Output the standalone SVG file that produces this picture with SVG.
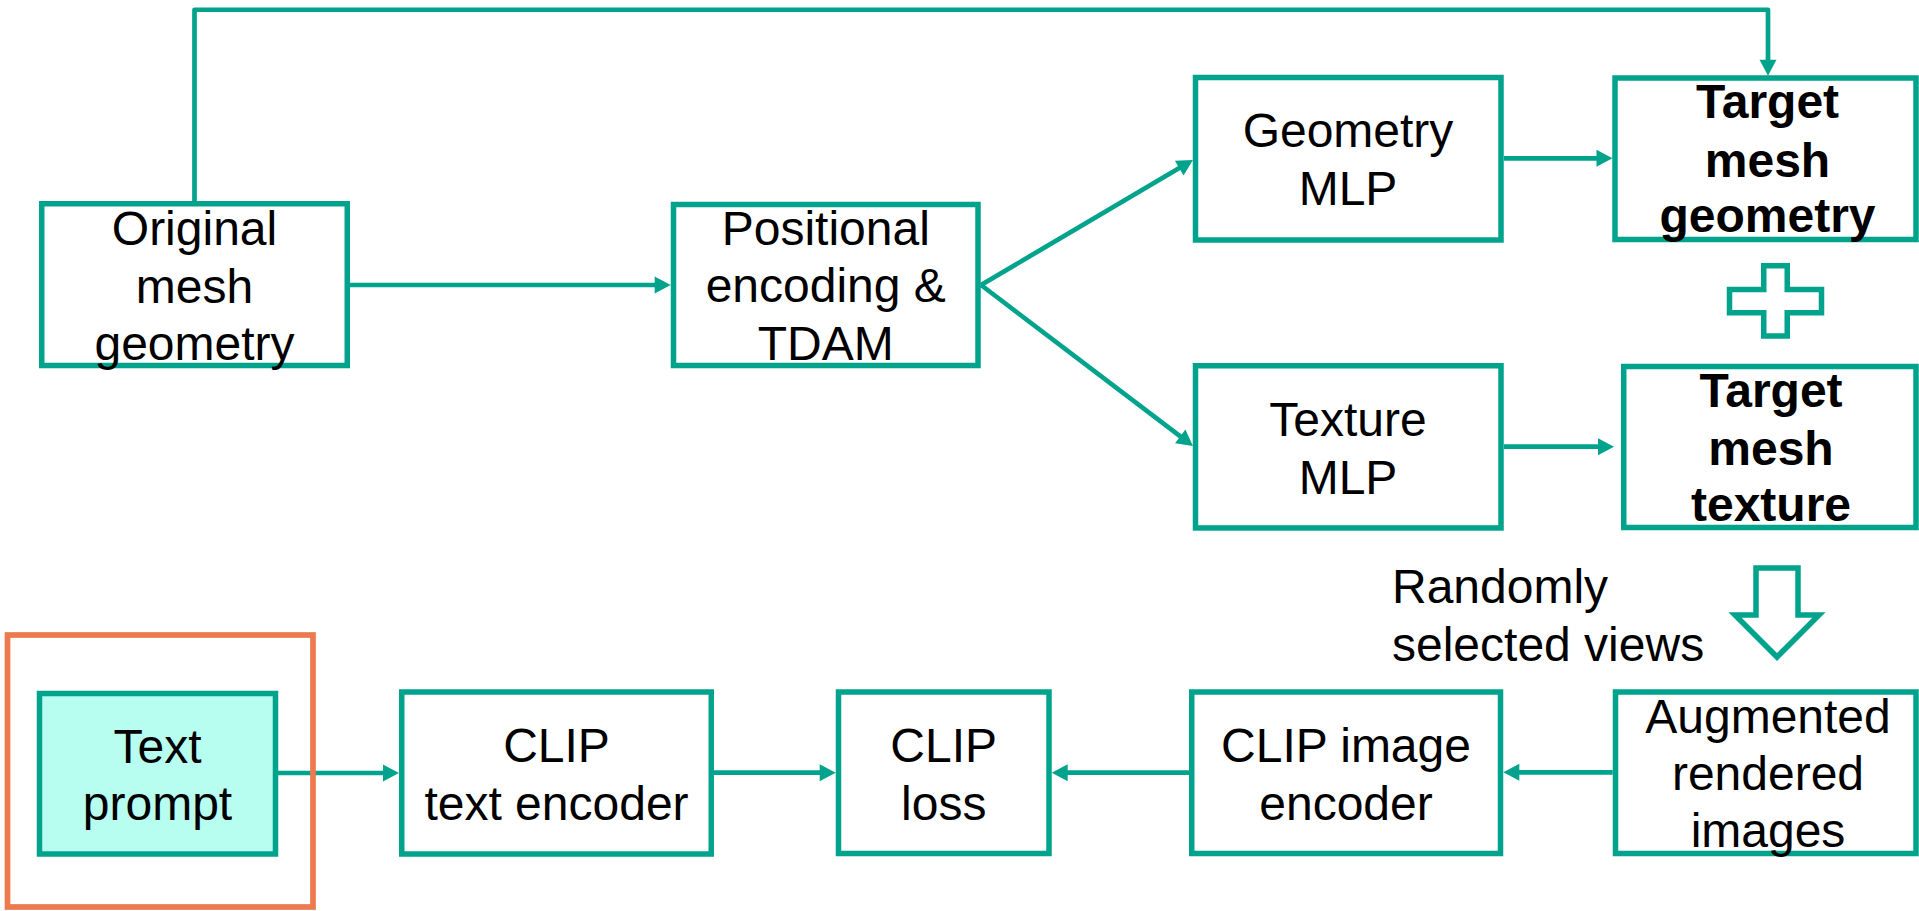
<svg xmlns="http://www.w3.org/2000/svg" width="1919" height="911" viewBox="0 0 1919 911">
  <style>
    .box { fill: #ffffff; stroke: #02A38C; stroke-width: 5.5; }
    .input { fill: #B7FEF0; }
    .lbl { font-family: "Liberation Sans", Arial, sans-serif; font-size: 48px; fill: #000000; text-anchor: middle; }
    .bold { font-weight: bold; }
    .edge { fill: none; stroke: #02A38C; stroke-width: 4.7; stroke-linejoin: round; }
    .frame { fill: none; stroke: #EC7A4E; stroke-width: 5.7; }
    .hollow { fill: #ffffff; stroke: #02A38C; stroke-width: 5.5; }
  </style>
  <defs>
    <marker id="arrow" markerUnits="userSpaceOnUse" markerWidth="16" markerHeight="17" refX="8" refY="8.5" orient="auto" overflow="visible">
      <path d="M0,0 L16,8.5 L0,17 Z" fill="#02A38C"/>
    </marker>
  </defs>

  <rect width="1919" height="911" fill="#ffffff"/>

  <!-- connectors -->
  <g id="connectors">
    <path class="edge" d="M194.5,204 V9.75 H1768 V67.7" marker-end="url(#arrow)"/>
    <path class="edge" d="M350,285 H662.7" marker-end="url(#arrow)"/>
    <path class="edge" d="M981,285 L1186.1,164.1" marker-end="url(#arrow)"/>
    <path class="edge" d="M981,285 L1186.6,441.2" marker-end="url(#arrow)"/>
    <path class="edge" d="M1504,158.3 H1604.5" marker-end="url(#arrow)"/>
    <path class="edge" d="M1504,446.7 H1606" marker-end="url(#arrow)"/>
    <path class="edge" d="M278,773 H391" marker-end="url(#arrow)"/>
    <path class="edge" d="M714,772.7 H827.7" marker-end="url(#arrow)"/>
    <path class="edge" d="M1189,772.7 H1059.7" marker-end="url(#arrow)"/>
    <path class="edge" d="M1612.7,772.3 H1511.3" marker-end="url(#arrow)"/>
  </g>

  <g id="original-mesh">
    <rect class="box" x="41.75" y="203.75" width="305.5" height="161.75"/>
    <text class="lbl" x="194.5" y="245">Original</text>
    <text class="lbl" x="194.5" y="302.5">mesh</text>
    <text class="lbl" x="194.5" y="360">geometry</text>
  </g>

  <g id="positional-encoding">
    <rect class="box" x="673.5" y="204.5" width="304.5" height="161"/>
    <text class="lbl" x="825.75" y="245">Positional</text>
    <text class="lbl" x="825.75" y="302">encoding &amp;</text>
    <text class="lbl" x="825.75" y="360">TDAM</text>
  </g>

  <g id="geometry-mlp">
    <rect class="box" x="1195.5" y="77.5" width="305.5" height="162.5"/>
    <text class="lbl" x="1348" y="147.3">Geometry</text>
    <text class="lbl" x="1348" y="205">MLP</text>
  </g>

  <g id="texture-mlp">
    <rect class="box" x="1195.5" y="365.75" width="305.5" height="162.2"/>
    <text class="lbl" x="1348" y="436">Texture</text>
    <text class="lbl" x="1348" y="494">MLP</text>
  </g>

  <g id="target-geometry">
    <rect class="box" x="1615" y="78" width="301" height="161.5"/>
    <text class="lbl bold" x="1767.5" y="118">Target</text>
    <text class="lbl bold" x="1767.5" y="177">mesh</text>
    <text class="lbl bold" x="1767.5" y="232">geometry</text>
  </g>

  <g id="plus-sign">
    <path class="hollow" d="M1763.75,265.75 H1787.25 V289.5 H1821.5 V312.7 H1787.25 V335.9 H1763.75 V312.7 H1729.5 V289.5 H1763.75 Z"/>
  </g>

  <g id="target-texture">
    <rect class="box" x="1623.75" y="366.5" width="292.25" height="161"/>
    <text class="lbl bold" x="1771" y="407">Target</text>
    <text class="lbl bold" x="1771" y="465">mesh</text>
    <text class="lbl bold" x="1771" y="521">texture</text>
  </g>

  <g id="random-views">
    <path class="hollow" d="M1756,568 H1798 V615 H1819 L1777,657 L1735,615 H1756 Z"/>
    <text class="lbl" x="1392" y="603" style="text-anchor:start">Randomly</text>
    <text class="lbl" x="1392" y="660.7" style="text-anchor:start">selected views</text>
  </g>

  <g id="text-prompt">
    <rect class="box input" x="39.5" y="693.5" width="236" height="160.5"/>
    <text class="lbl" x="157.5" y="762.7">Text</text>
    <text class="lbl" x="157.5" y="820">prompt</text>
  </g>

  <g id="clip-text-encoder">
    <rect class="box" x="401.75" y="692" width="309.5" height="162"/>
    <text class="lbl" x="556.5" y="761.7">CLIP</text>
    <text class="lbl" x="556.5" y="820">text encoder</text>
  </g>

  <g id="clip-loss">
    <rect class="box" x="838.5" y="692" width="210.5" height="161.5"/>
    <text class="lbl" x="943.7" y="761.7">CLIP</text>
    <text class="lbl" x="943.7" y="820">loss</text>
  </g>

  <g id="clip-image-encoder">
    <rect class="box" x="1191.75" y="692" width="308.75" height="161.5"/>
    <text class="lbl" x="1346" y="761.7">CLIP image</text>
    <text class="lbl" x="1346" y="820">encoder</text>
  </g>

  <g id="augmented-images">
    <rect class="box" x="1615.5" y="692" width="300.5" height="161.5"/>
    <text class="lbl" x="1768" y="732.7">Augmented</text>
    <text class="lbl" x="1768" y="790">rendered</text>
    <text class="lbl" x="1768" y="846.7">images</text>
  </g>

  <g id="prompt-highlight">
    <rect class="frame" x="7.5" y="635" width="305.5" height="272"/>
  </g>
</svg>
